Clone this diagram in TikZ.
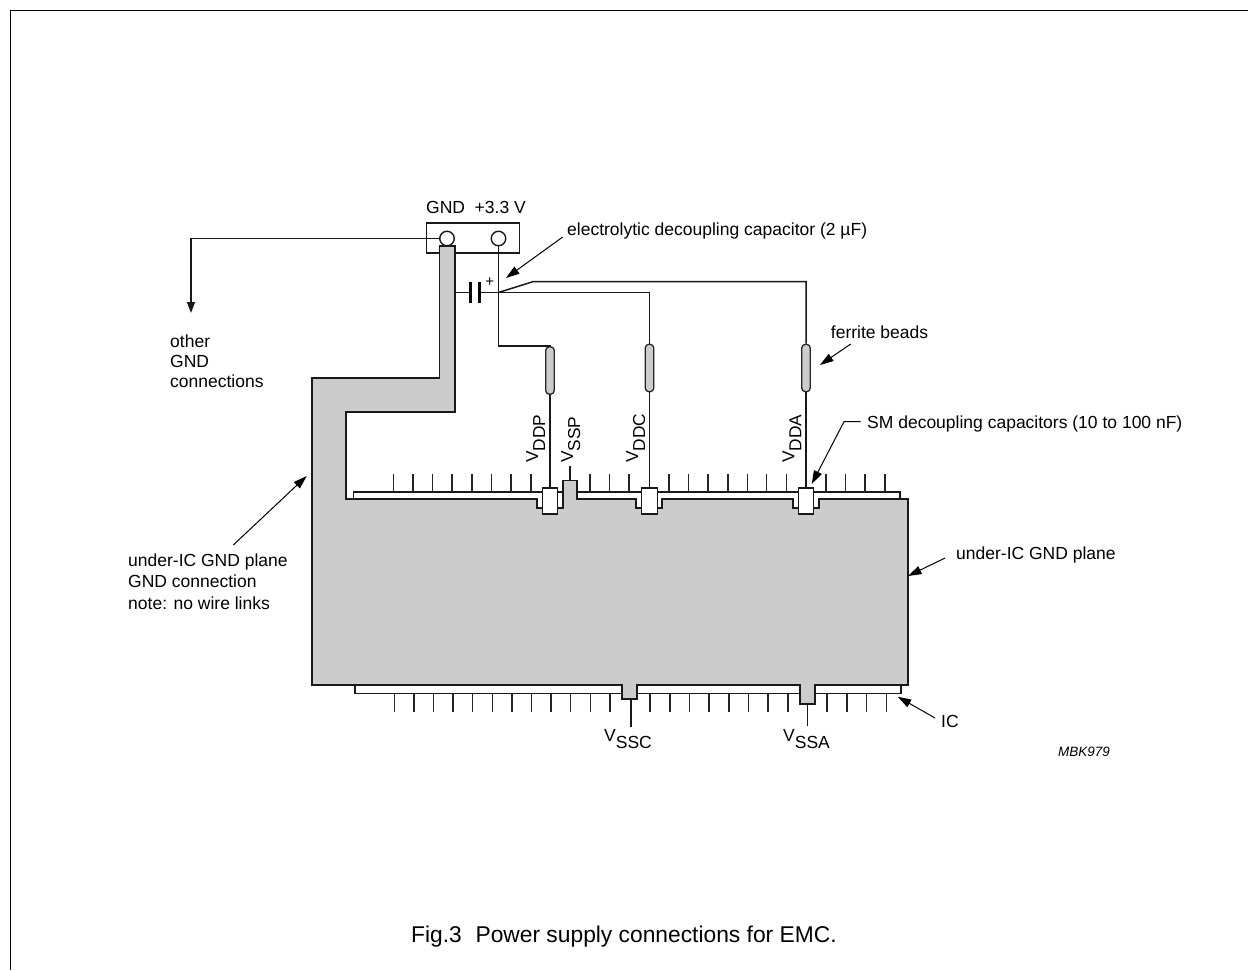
\documentclass[tikz,border=0pt]{standalone}
\usepackage{fontspec}
\setmainfont{Liberation Sans}
\usetikzlibrary{arrows.meta}
\tikzset{
  wire/.style={draw=black!90,line width=1.5pt,line join=miter},
  pin/.style={draw=black!85,line width=1.4pt},
  plane/.style={draw=black!90,line width=1.4pt,fill=black!20},
  bead/.style={draw=black!85,line width=1.3pt,fill=black!20,rounded corners=3.8pt},
  pad/.style={draw=black!90,line width=1.4pt,fill=white},
  callout/.style={draw=black,line width=1pt,-{Triangle[length=13.5pt,width=8.5pt]}},
  lbl/.style={font=\fontsize{17.5}{20}\selectfont,inner sep=0pt,anchor=base west},
  vlbl/.style={font=\fontsize{17.3}{20}\selectfont,inner sep=0pt,anchor=base west,rotate=90},
}
\newcommand{\vsub}[1]{V\raisebox{-7pt}{#1}}
\begin{document}
\begin{tikzpicture}[x=1pt,y=-1pt]
\useasboundingbox (0,0) rectangle (1248,970);
\fill[white] (0,0) rectangle (1248,970);
% frame
\draw[black,line width=1.6pt] (10.5,970) -- (10.5,10.5) -- (1248,10.5);

% IC body
\draw[wire,fill=white] (353.5,505) -- (353.5,492) -- (900,492) -- (900,505);
\draw[wire,fill=white] (355,680) -- (355,693.5) -- (901,693.5) -- (901,680);

% pins
\foreach \x in {393.5,413,432.5,452,472,491.5,511,531,590,609.5,629,669,688.5,708,728,747.5,766.5,786.5,826,845.5,865,885}
  \draw[pin] (\x,492) -- (\x,474);
\foreach \x in {394.5,414,433.5,453,472.5,492.5,512,531.5,551,570.5,590.5,610,650,670,689.5,709,729,748.5,768,788,827,847,866.5,886.5}
  \draw[pin] (\x,693.5) -- (\x,712);

% GND connector
\node[draw=black!90,line width=1.4pt,minimum width=92.6pt,minimum height=30pt,inner sep=0pt] (conn) at (473,238) {};

% gray plane
\draw[plane] (439.5,246) -- (455,246) -- (455,412) -- (346,412) -- (346,499)
  -- (537,499) -- (537,508) -- (563,508) -- (563,480.5) -- (577,480.5) -- (577,499)
  -- (636,499) -- (636,508) -- (662,508) -- (662,499)
  -- (793,499) -- (793,508) -- (819,508) -- (819,499)
  -- (908,499) -- (908,685)
  -- (815,685) -- (815,704) -- (800,704) -- (800,685)
  -- (637,685) -- (637,699) -- (622,699) -- (622,685)
  -- (312,685) -- (312,378) -- (439.5,378) -- cycle;

% terminals
\node[circle,draw=black!90,line width=1.4pt,fill=white,minimum size=14.5pt,inner sep=0pt] (gndpin) at (447,238.5) {};
\node[circle,draw=black!90,line width=1.4pt,fill=white,minimum size=14.5pt,inner sep=0pt] (vccpin) at (498.5,238.5) {};
\fill[black!20] (440.2,246.7) rectangle (454.3,252);
\draw[plane] (439.5,253) -- (439.5,246) -- (455,246) -- (455,253);

% SM capacitors
\node[pad,minimum width=15.5pt,minimum height=26pt,inner sep=0pt] (c1) at (550,501) {};
\node[pad,minimum width=15.5pt,minimum height=26pt,inner sep=0pt] (c2) at (649.5,501) {};
\node[pad,minimum width=14.5pt,minimum height=26pt,inner sep=0pt] (c3) at (806,501) {};

% ferrite beads
\node[bead,minimum width=8.6pt,minimum height=47.5pt,inner sep=0pt] (b1) at (550,370.5) {};
\node[bead,minimum width=8.6pt,minimum height=47.5pt,inner sep=0pt] (b2) at (649.5,368) {};
\node[bead,minimum width=8.6pt,minimum height=47.5pt,inner sep=0pt] (b3) at (806,368) {};

% electrolytic capacitor
\coordinate (junction) at (498.5,292.5);
\coordinate (capleft) at (470.7,292.5);
\coordinate (capright) at (479.3,292.5);
\coordinate (planeedge) at (455,292.5);
\draw[wire] (planeedge) -- (capleft);
\draw[wire] (capright) -- (junction);
\draw[black,line width=3pt] (470.7,281.7) -- (470.7,303);
\draw[black,line width=3pt] (479.3,281.7) -- (479.3,303);
\node[font=\fontsize{15}{16}\selectfont,inner sep=0pt] (plus) at (489.7,282) {+};

% wiring
\coordinate (otherend) at (191,313);
\draw[wire,-{Triangle[length=11pt,width=8pt]}] (gndpin.west) -- (191,238.5) -- (otherend);
\draw[wire] (vccpin.south) -- (498.5,346) -- (550,346) -- (b1.north);
\draw[wire] (junction) -- (649.5,292.5) -- (b2.north);
\draw[wire] (junction) -- (533.5,281.5) -- (806,281.5) -- (b3.north);
\draw[wire] (b1.south) -- (c1.north);
\draw[wire] (b2.south) -- (c2.north);
\draw[wire] (b3.south) -- (c3.north);

% supply stubs
\coordinate (sspstub) at (570,466);
\draw[wire] (570,480.5) -- (sspstub);
\coordinate (sscstub) at (631,727);
\draw[wire] (631,699) -- (sscstub);
\coordinate (ssastub) at (807.5,726);
\draw[wire] (807.5,704) -- (ssastub);

% labels
\node[lbl] (conn label) at (426,213) {GND\hspace{0.55em}+3.3 V};
\node[lbl] (elec) at (567,235) {electrolytic decoupling capacitor (2 µF)};
\node[lbl] (other1) at (170,347) {other};
\node[lbl] (other2) at (170,367) {GND};
\node[lbl] (other3) at (170,387) {connections};
\node[lbl] (ferr) at (830.7,338) {ferrite beads};
\node[lbl] (smlbl) at (867,428) {SM decoupling capacitors (10 to 100 nF)};
\node[lbl] (u1) at (128,566) {under-IC GND plane};
\node[lbl] (u2) at (128,587) {GND connection};
\node[lbl] (u3) at (128,609) {note: no wire links};
\node[lbl] (uright) at (956,559) {under-IC GND plane};
\node[lbl] (iclbl) at (941,727) {IC};
\node[lbl,font=\fontsize{13.5}{15}\selectfont\itshape] (mbk) at (1058,756) {MBK979};
\node[lbl,font=\fontsize{22.8}{26}\selectfont] (cap) at (411,942) {Fig.3\hspace{0.6em}Power supply connections for EMC.};
\node[vlbl] (vddp) at (538,463) {\vsub{DDP}};
\node[vlbl] (vssp) at (573,463) {\vsub{SSP}};
\node[vlbl] (vddc) at (638,463) {\vsub{DDC}};
\node[vlbl] (vdda) at (794.3,463) {\vsub{DDA}};
\node[lbl] (vssc) at (604,741) {\vsub{SSC}};
\node[lbl] (vssa) at (783,741) {\vsub{SSA}};

% callouts
\coordinate (a1s) at (562.7,237); \coordinate (a1e) at (506,278);
\coordinate (a2s) at (850.7,344); \coordinate (a2e) at (820,365);
\coordinate (a3k) at (844,421.7); \coordinate (a3e) at (811.7,484); \coordinate (a3s) at (860.7,421.7);
\coordinate (a4s) at (233.3,545); \coordinate (a4e) at (306.7,476);
\coordinate (a5s) at (945,558); \coordinate (a5e) at (908,576);
\coordinate (a6s) at (935,718); \coordinate (a6e) at (897.7,696.7);
\draw[callout] (a1s) -- (a1e);
\draw[callout] (a2s) -- (a2e);
\draw[callout] (a3s) -- (a3k) -- (a3e);
\draw[callout] (a4s) -- (a4e);
\draw[callout] (a5s) -- (a5e);
\draw[callout] (a6s) -- (a6e);
\end{tikzpicture}
\end{document}
